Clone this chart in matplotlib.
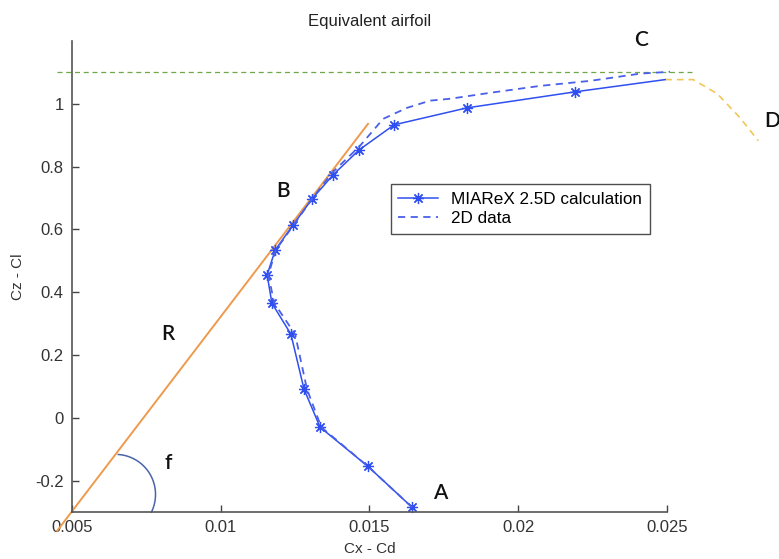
import numpy as np
import matplotlib.pyplot as plt

plt.rcParams.update({'font.family': ['Liberation Sans', 'DejaVu Sans'], 'font.size': 12})

# MIAReX 2.5D calculation (polar, Cd vs Cl)
cd_calc = [0.01643, 0.01495, 0.01334, 0.01280, 0.01236, 0.01172, 0.01156,
           0.01183, 0.01243, 0.01307, 0.01378, 0.01465, 0.01583, 0.01828,
           0.02191, 0.02494]
cl_calc = [-0.285, -0.155, -0.030, 0.091, 0.266, 0.365, 0.455,
           0.534, 0.614, 0.697, 0.774, 0.853, 0.933, 0.987,
           1.038, 1.077]
n_markers = 15  # last point has no marker

# 2D data
cd_2d = [0.01643, 0.01495, 0.01338, 0.01290, 0.01250, 0.01180, 0.01160,
         0.01185, 0.01245, 0.01307, 0.01372, 0.01468, 0.01546, 0.01626,
         0.01704, 0.01771, 0.01906, 0.02074, 0.02242, 0.02410, 0.02510]
cl_2d = [-0.285, -0.155, -0.030, 0.091, 0.266, 0.365, 0.455,
         0.534, 0.614, 0.697, 0.778, 0.866, 0.952, 0.987,
         1.010, 1.016, 1.035, 1.057, 1.073, 1.096, 1.102]

# stall branch (C -> D)
cd_stall = [0.02494, 0.02588, 0.02669, 0.02746, 0.02807]
cl_stall = [1.077, 1.077, 1.032, 0.955, 0.882]

# tangent line from origin of the polar (R)
cd_tan = [0.0045, 0.01495]
cl_tan = [-0.36, 0.936]

cl_max = 1.1
cd_max_line = [0.0045, 0.0259]

xticks = [0.005, 0.01, 0.015, 0.02, 0.025]
xticklabels = ['0.005', '0.01', '0.015', '0.02', '0.025']
yticks = [-0.2, 0, 0.2, 0.4, 0.6, 0.8, 1.0]
yticklabels = ['-0.2', '0', '0.2', '0.4', '0.6', '0.8', '1']

fig = plt.figure(figsize=(7.79, 5.59), dpi=100)
ax = fig.add_axes([0.0924, 0.0841, 0.7638, 0.8426])
ax.set_xlim(0.005, 0.025)
ax.set_ylim(-0.3, 1.2)

ax.plot(cd_max_line, [cl_max, cl_max], ls=(0, (4, 3)), color='#6fa84a', lw=0.9, clip_on=False)
ax.plot(cd_tan, cl_tan, color='#ee9a4d', lw=1.4, clip_on=False)
ax.plot(cd_stall, cl_stall, ls=(0, (4, 3)), color='#f3c65a', lw=1.2, clip_on=False)

ax.plot(cd_calc, cl_calc, color='#2f4ff0', lw=1.1, marker=(8, 2, 0), ms=8, mew=0.9,
        markevery=list(range(n_markers)), label='MIAReX 2.5D calculation', clip_on=False)
ax.plot(cd_2d, cl_2d, color='#4a60e8', lw=1.3, ls=(0, (4, 3)), label='2D data', clip_on=False)

# angle arc f (circle in screen space)
t = np.radians(np.linspace(-26, 86, 60))
ax.plot(0.006463 + 0.001345 * np.cos(t), -0.2442 + 0.1276 * np.sin(t),
        color='#4a64a8', lw=1.1, clip_on=False)

lab = dict(fontsize=15, family=['Lato', 'DejaVu Sans'], weight='semibold', color='#111111', clip_on=False)
ax.text(0.02413, 1.204, 'C', ha='center', va='center', **lab)
ax.text(0.02827, 0.946, 'D', ha='left', va='center', **lab)
ax.text(0.0121, 0.7225, 'B', ha='center', va='center', **lab)
ax.text(0.00823, 0.266, 'R', ha='center', va='center', **lab)
ax.text(0.00823, -0.145, 'f', ha='center', va='center', **lab)
ax.text(0.01737, -0.241, 'A', ha='center', va='center', **lab)

ax.set_xticks(xticks)
ax.set_xticklabels(xticklabels)
ax.set_yticks(yticks)
ax.set_yticklabels(yticklabels)
ax.tick_params(direction='in', length=5, width=1, color='#444444', labelcolor='#333333', pad=6)
for s in ['top', 'right']:
    ax.spines[s].set_visible(False)
for s in ['left', 'bottom']:
    ax.spines[s].set_color('#555555')
    ax.spines[s].set_linewidth(1.2)

ax.set_title('Equivalent airfoil', fontsize=12, color='#222222', pad=11)
ax.set_xlabel('Cx - Cd', fontsize=11, color='#333333', labelpad=5)
ax.set_ylabel('Cz - Cl', fontsize=11, color='#333333', labelpad=7)

leg = ax.legend(loc='upper left', bbox_to_anchor=(0.5355, 0.696), fontsize=12.3,
                frameon=True, fancybox=False, edgecolor='#222222', borderpad=0.45,
                handlelength=2.3, labelspacing=0.25, borderaxespad=0)
leg.get_frame().set_linewidth(1.0)

fig.savefig('out.png', dpi=100)
